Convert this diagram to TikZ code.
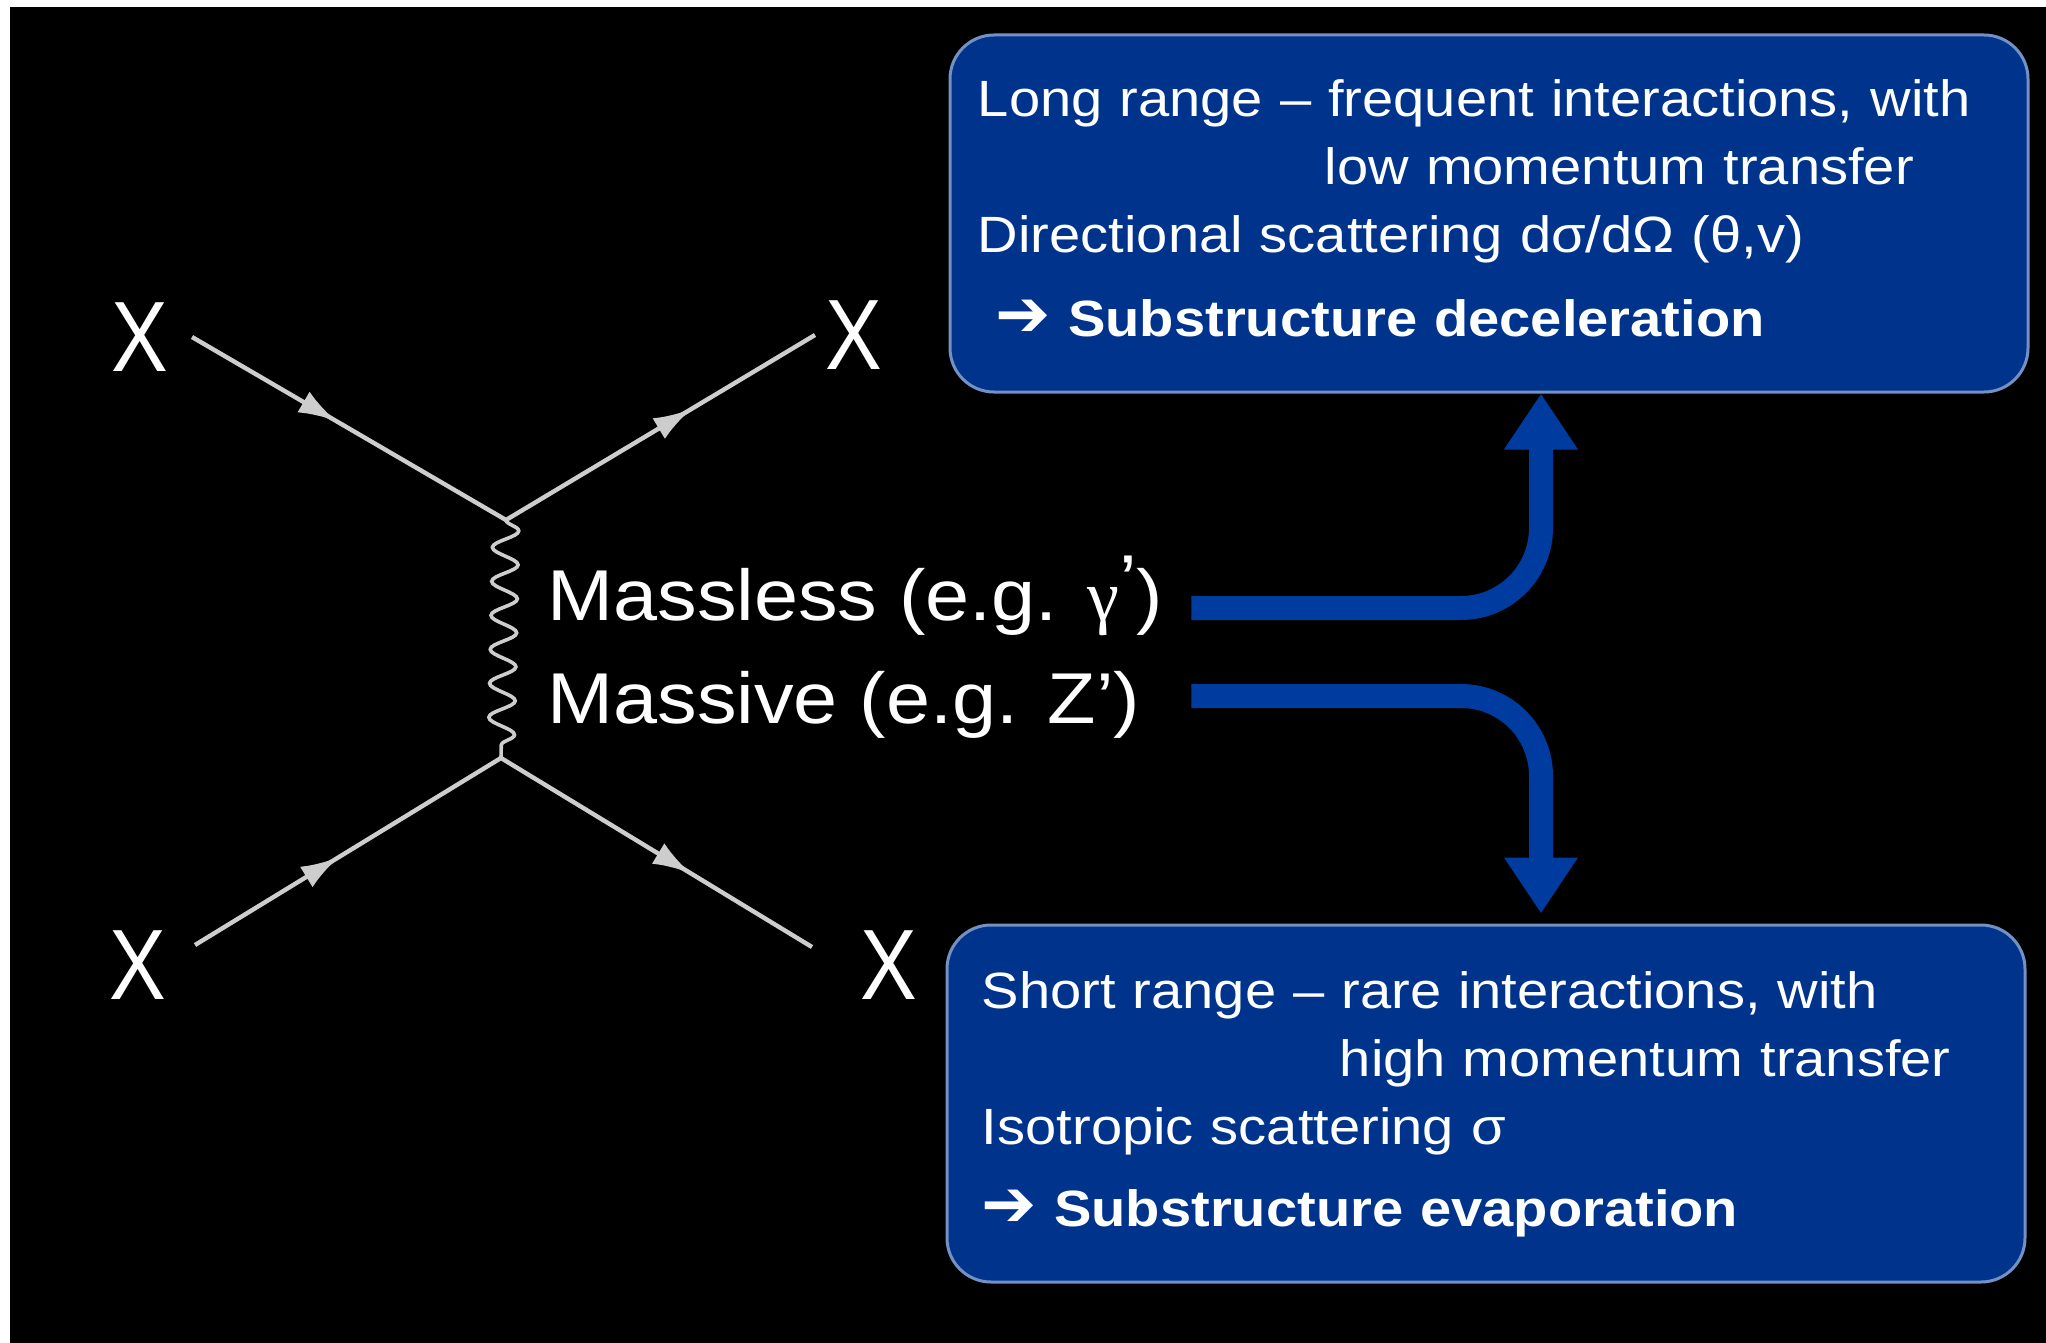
\documentclass[tikz,border=0pt]{standalone}
\usepackage{fontspec}
\setmainfont{Liberation Sans}[FakeStretch=1.1]
\newfontfamily\xfont{Liberation Sans}[FakeStretch=0.85]
\newfontfamily\serifgreek{Liberation Serif}
\newfontfamily\dingfont{DejaVu Sans}
\usepackage{tikz}
\usetikzlibrary{arrows.meta, decorations.pathmorphing, decorations.markings, positioning}
\definecolor{slideblue}{RGB}{0,51,140}
\definecolor{boxrim}{RGB}{115,145,195}
\definecolor{arrowblue}{RGB}{0,60,160}
\definecolor{linegray}{RGB}{205,205,205}

\tikzset{
	fermion/.style={linegray, line width=2.2pt,
		decoration={markings, mark=at position #1 with {\arrow{Latex[length=19pt, width=12pt]}}},
		postaction={decorate}},
	photon/.style={linegray, line width=1.8pt, decorate,
		decoration={snake, segment length=17pt, amplitude=6.5pt}},
	particle/.style={inner sep=0pt, text=white, font=\xfont\fontsize{50}{50}\selectfont},
	exchange/.style={inner sep=0pt, text=white, anchor=base west, font=\fontsize{36}{36}\selectfont},
	slidebox/.style={draw=boxrim, line width=1.5pt, fill=slideblue, rounded corners=22pt,
		minimum width=539pt, minimum height=178.5pt, inner sep=0pt},
	boxtext/.style={inner sep=0pt, text=white, anchor=base west, text width=520pt, align=left,
		font=\fontsize{25.5}{34}\selectfont},
	bigarrow/.style={arrowblue, line width=12pt, rounded corners=40pt, -{Triangle[length=28pt, width=35pt]}}
}
\newcommand{\bigpointer}{{\dingfont\fontsize{33}{34}\selectfont ➔}}

\begin{document}
\begin{tikzpicture}[x=0.5pt, y=-0.5pt]
		\useasboundingbox (0,0) rectangle (2046,1343);
		\fill[white] (0,0) rectangle (2046,1343);
		\fill[black] (10,7) rectangle (2046,1343);
		
		% vertices and free ends of the fermion lines
		\coordinate (v1) at (506,520);
		\coordinate (v2) at (501,758);
		\coordinate (inA) at (192,337);
		\coordinate (outB) at (815,335);
		\coordinate (inC) at (195,945);
		\coordinate (outD) at (812,947);
		
		% particles:
		\node[particle, left=11.5pt of inA] (xa) {X};
		\node[particle, right=5pt of outB] (xb) {X};
		\node[particle, left=14pt of inC, yshift=-10pt] (xc) {X};
		\node[particle, right=24pt of outD, yshift=-9pt] (xd) {X};
		
		\draw[fermion=0.46] (inA) -- (v1);
		\draw[fermion=0.6] (v1) -- (outB);
		\draw[fermion=0.47] (inC) -- (v2);
		\draw[fermion=0.61] (v2) -- (outD);
		\draw[photon] (v1) -- (v2); %mediator
		
		\node[exchange] (massless) at (547,620) {Massless (e.g. {\serifgreek γ}\raisebox{0.2em}{’})};
		\node[exchange] (massive) at (547,723) {Massive (e.g. Z’)};
		
		% boxes
		\node[slidebox] (longbox) at (1489,213.5) {};
		\node[slidebox] (shortbox) at (1486,1103.5) {};
		\node[boxtext] (longtext) at ([xshift=14.5pt, yshift=-41.5pt]longbox.north west) {%
			Long range – frequent interactions, with\\
			\hspace*{173.5pt}low momentum transfer\\
			Directional scattering dσ/dΩ (θ,v)\\[8pt]
			\hspace*{9pt}\bigpointer\ \textbf{Substructure deceleration}};
		\node[boxtext] (shorttext) at ([xshift=18pt, yshift=-42.5pt]shortbox.north west) {%
			Short range – rare interactions, with\\
			\hspace*{179pt}high momentum transfer\\
			Isotropic scattering σ\\[7pt]
			\bigpointer\ \textbf{Substructure evaporation}};
		
		% blue arrows
		\coordinate (upstart) at ([xshift=14pt, yshift=6pt]massless.base east);
		\coordinate[yshift=13.5pt] (downstart) at (upstart |- massive.base);
		\draw[bigarrow] (upstart) -| ([xshift=26pt]longbox.south);
		\draw[bigarrow] (downstart) -| ([xshift=27.5pt, yshift=5pt]shortbox.north);
	\end{tikzpicture}
\end{document}
